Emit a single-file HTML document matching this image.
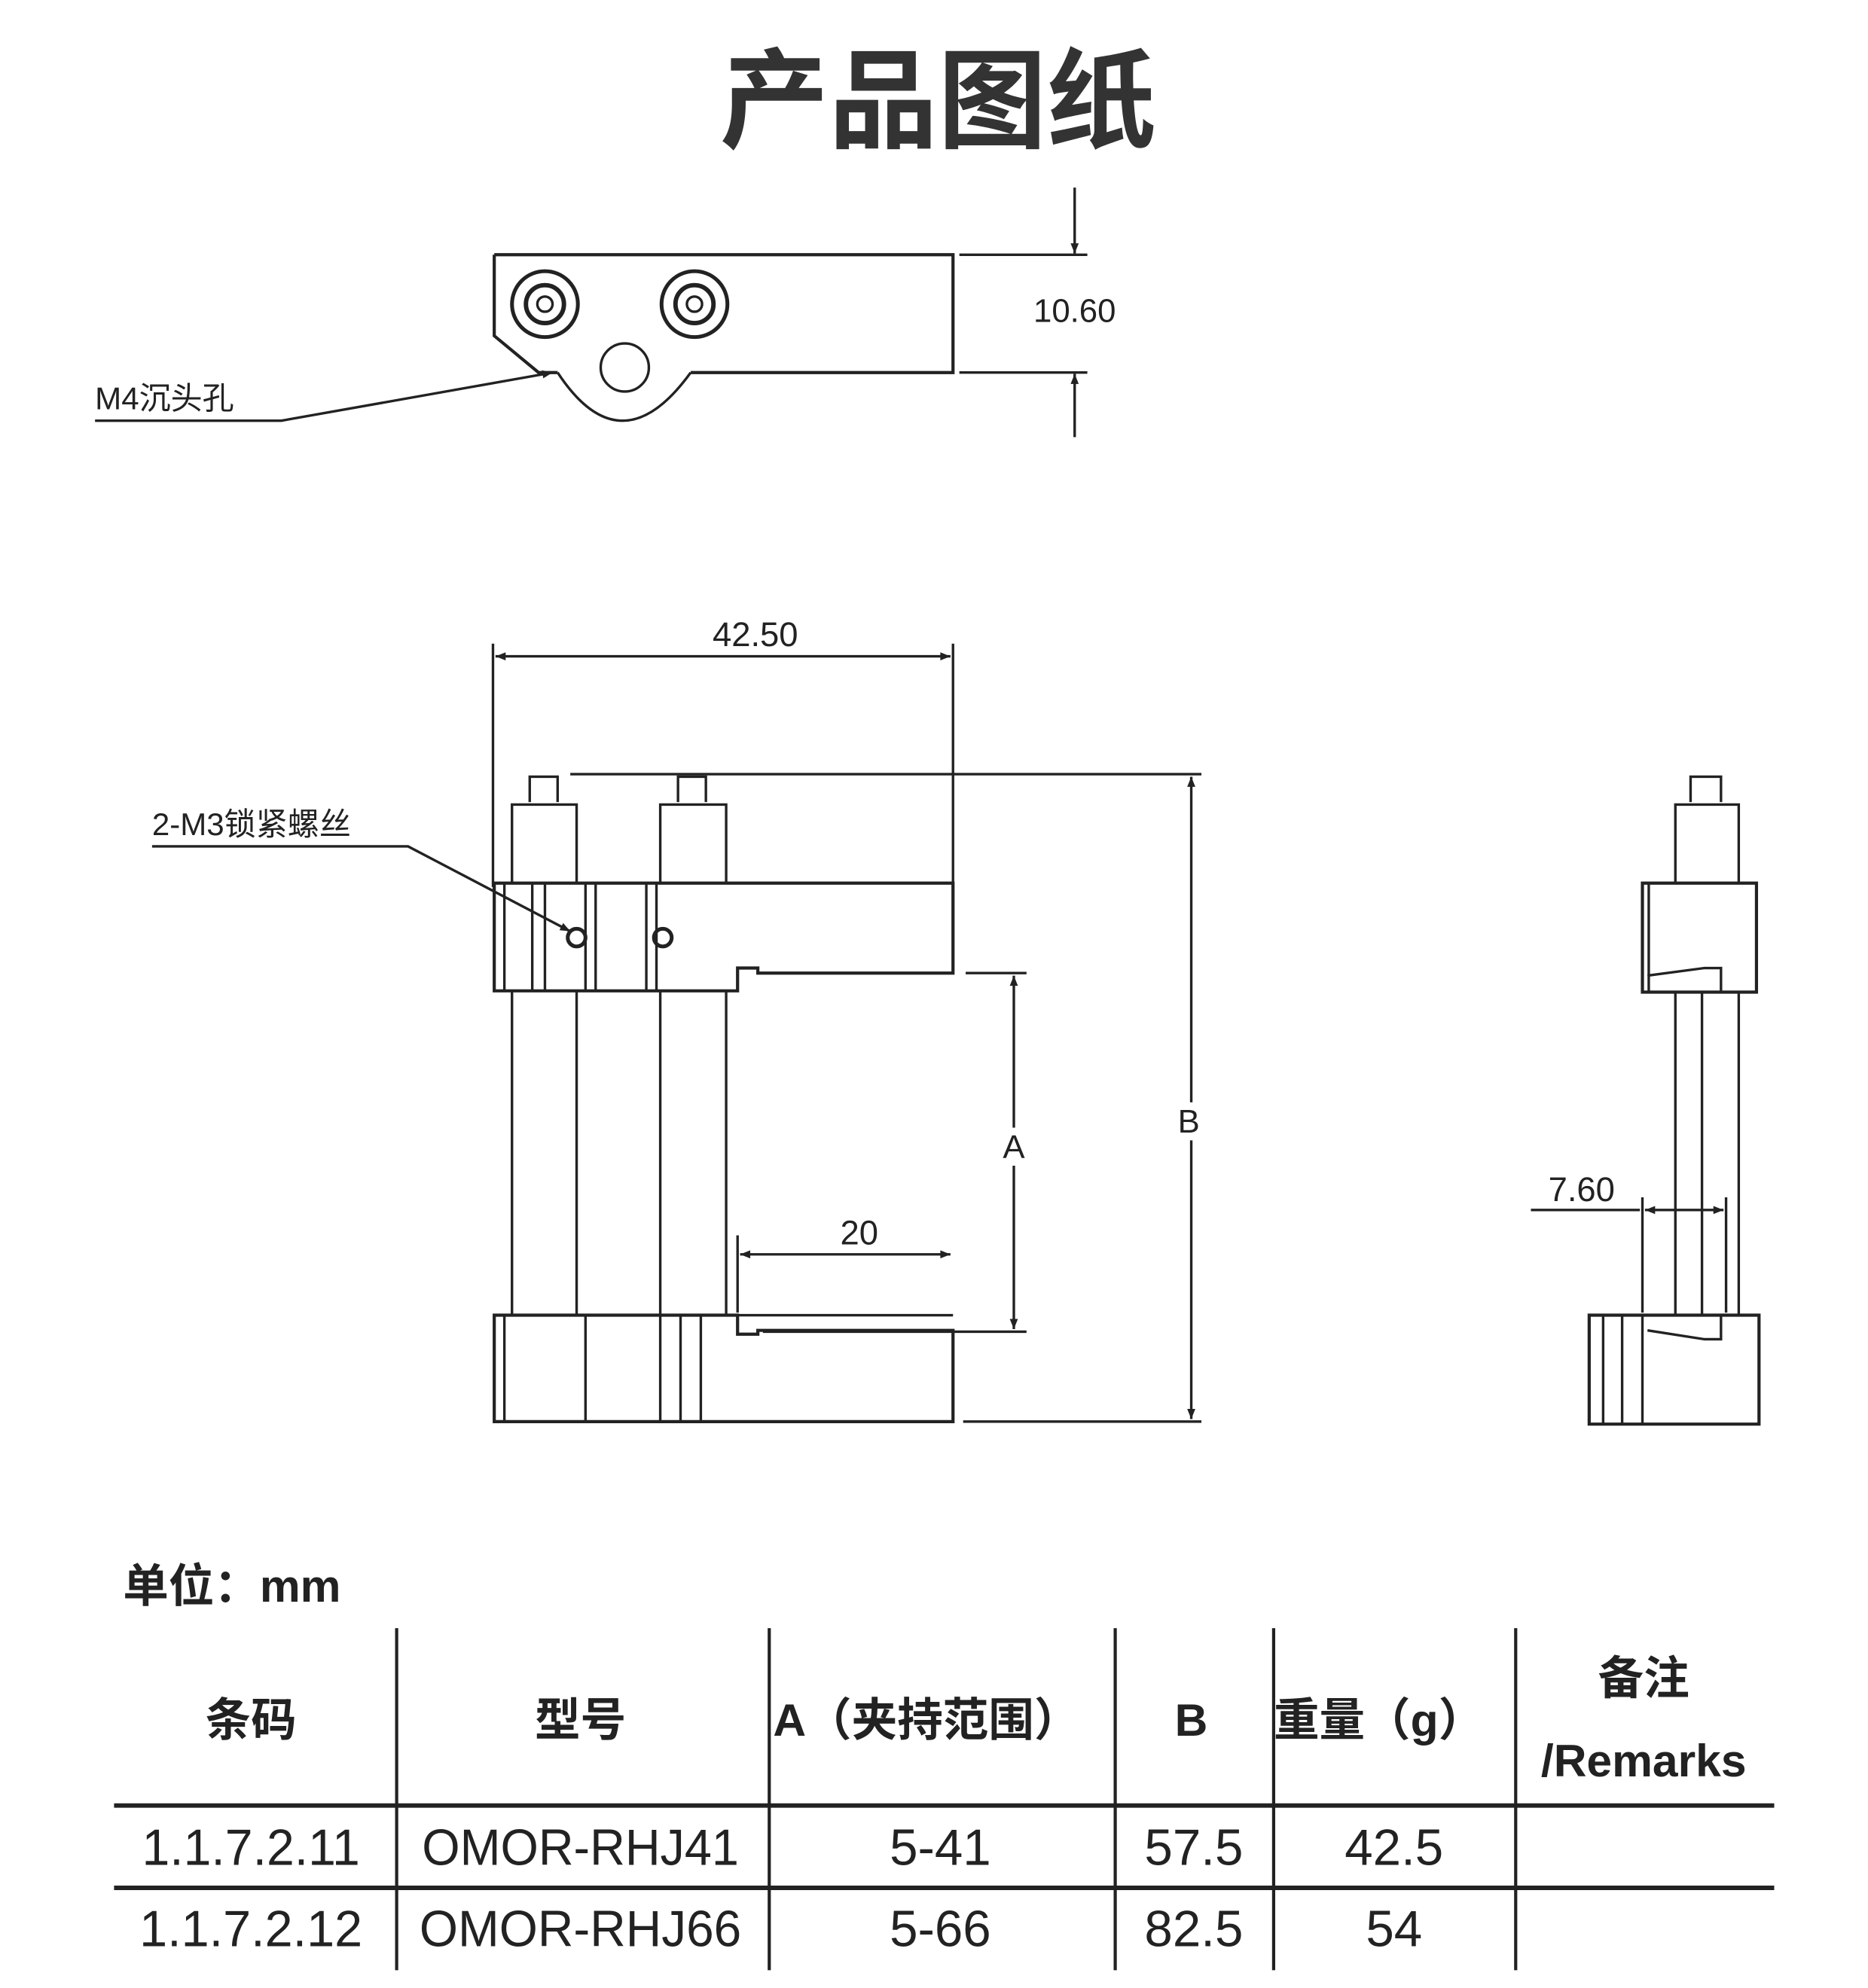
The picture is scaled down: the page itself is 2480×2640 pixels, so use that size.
<!DOCTYPE html>
<html><head><meta charset="utf-8"><style>
html,body{margin:0;padding:0;background:#fff;}
svg{display:block;}
text{font-family:"Liberation Sans","Noto Sans CJK SC",sans-serif;fill:#222;}
</style></head><body>
<svg width="2480" height="2640" viewBox="0 0 1474 1569" xmlns="http://www.w3.org/2000/svg">
<defs>
<marker id="ar" viewBox="0 0 10 10" refX="10" refY="5" markerWidth="18" markerHeight="8" markerUnits="userSpaceOnUse" orient="auto-start-reverse"><path d="M0,1 L10,5 L0,9 z" fill="#222"/></marker>
</defs>
<rect width="1474" height="1569" fill="#fff"/>
<text x="740" y="110" font-size="86" font-weight="bold" text-anchor="middle" style="fill:#333">产品图纸</text>

<g stroke="#222" fill="none" stroke-width="2">
<path d="M390,201 H752 V294 H545 M390,201 V265 L425,294 H440" stroke-width="2.5"/>
<path d="M440,294 Q490,370 545,294" />
<circle cx="493" cy="290" r="19"/>
<circle cx="430" cy="240" r="26" stroke-width="3"/><circle cx="430" cy="240" r="15" stroke-width="3.5"/><circle cx="430" cy="240" r="6"/>
<circle cx="548" cy="240" r="26" stroke-width="3"/><circle cx="548" cy="240" r="15" stroke-width="3.5"/><circle cx="548" cy="240" r="6"/>
<line x1="757" y1="201" x2="858" y2="201"/><line x1="757" y1="294" x2="858" y2="294"/>
<line x1="848" y1="148" x2="848" y2="200" marker-end="url(#ar)"/>
<line x1="848" y1="345" x2="848" y2="295" marker-end="url(#ar)"/>
<path d="M75,332 H222 L436,294" marker-end="url(#ar)"/>

<line x1="389" y1="508" x2="389" y2="700"/><line x1="752" y1="508" x2="752" y2="697"/>
<line x1="391" y1="518" x2="750" y2="518" marker-start="url(#ar)" marker-end="url(#ar)"/>
<path d="M418,633 V613 H440 V633 M404,697 V635 H455 V697"/>
<path d="M535,633 V613 H557 V633 M521,697 V635 H573 V697"/>
<path d="M390,697 H752 V768 H598 V764 H582 V782 H390 Z" stroke-width="2.5"/>
<line x1="398" y1="697" x2="398" y2="782"/><line x1="420" y1="697" x2="420" y2="782"/><line x1="430" y1="697" x2="430" y2="782"/>
<line x1="462" y1="697" x2="462" y2="782"/><line x1="470" y1="697" x2="470" y2="782"/>
<line x1="510" y1="697" x2="510" y2="782"/><line x1="518" y1="697" x2="518" y2="782"/>
<circle cx="455" cy="740" r="7" stroke-width="3"/><circle cx="523" cy="740" r="7" stroke-width="3"/>
<path d="M120,668 H322 L450,735" marker-end="url(#ar)"/>
<line x1="404" y1="782" x2="404" y2="1038"/><line x1="455" y1="782" x2="455" y2="1038"/>
<line x1="521" y1="782" x2="521" y2="1038"/><line x1="573" y1="782" x2="573" y2="1038"/>
<path d="M390,1038 H582 V1053 H598 V1050 H752 V1122 H390 Z" stroke-width="2.5"/>
<line x1="582" y1="1038" x2="752" y2="1038"/>
<line x1="398" y1="1038" x2="398" y2="1122"/><line x1="462" y1="1038" x2="462" y2="1122"/>
<line x1="521" y1="1038" x2="521" y2="1122"/><line x1="537" y1="1038" x2="537" y2="1122"/><line x1="553" y1="1038" x2="553" y2="1122"/>
<line x1="762" y1="768" x2="810" y2="768"/><line x1="602" y1="1051" x2="810" y2="1051"/>
<line x1="800" y1="770" x2="800" y2="890" marker-start="url(#ar)"/><line x1="800" y1="920" x2="800" y2="1049" marker-end="url(#ar)"/>
<line x1="450" y1="611" x2="948" y2="611"/><line x1="760" y1="1122" x2="948" y2="1122"/>
<line x1="940" y1="613" x2="940" y2="870" marker-start="url(#ar)"/><line x1="940" y1="900" x2="940" y2="1120" marker-end="url(#ar)"/>
<line x1="582" y1="975" x2="582" y2="1036"/>
<line x1="584" y1="990" x2="750" y2="990" marker-start="url(#ar)" marker-end="url(#ar)"/>

<path d="M1334,633 V613 H1358 V633 M1322,697 V635 H1372 V697"/>
<path d="M1296,697 H1386 V783 H1296 Z" stroke-width="2.5"/>
<line x1="1301" y1="697" x2="1301" y2="783"/>
<path d="M1300,770 L1345,764 H1358 V783"/>
<line x1="1322" y1="783" x2="1322" y2="1038"/><line x1="1343" y1="783" x2="1343" y2="1038"/><line x1="1372" y1="783" x2="1372" y2="1038"/>
<path d="M1254,1038 H1388 V1124 H1254 Z" stroke-width="2.5"/>
<line x1="1265" y1="1038" x2="1265" y2="1124"/><line x1="1280" y1="1038" x2="1280" y2="1124"/><line x1="1296" y1="1038" x2="1296" y2="1124"/>
<path d="M1300,1050 L1345,1057 H1358 V1038"/>
<line x1="1296" y1="945" x2="1296" y2="1036"/><line x1="1362" y1="945" x2="1362" y2="1036"/>
<line x1="1208" y1="955" x2="1294" y2="955"/>
<line x1="1298" y1="955" x2="1360" y2="955" marker-start="url(#ar)" marker-end="url(#ar)"/>

<g stroke-width="2.5">
<line x1="313" y1="1285" x2="313" y2="1555"/><line x1="607" y1="1285" x2="607" y2="1555"/>
<line x1="880" y1="1285" x2="880" y2="1555"/><line x1="1005" y1="1285" x2="1005" y2="1555"/>
<line x1="1196" y1="1285" x2="1196" y2="1555"/>
</g>
<line x1="90" y1="1425" x2="1400" y2="1425" stroke-width="3.5"/>
<line x1="90" y1="1490" x2="1400" y2="1490" stroke-width="3.5"/>
</g>

<text x="848" y="254" font-size="26" text-anchor="middle">10.60</text>
<text x="75" y="323" font-size="25">M4沉头孔</text>
<text x="596" y="510" font-size="27" text-anchor="middle">42.50</text>
<text x="120" y="659" font-size="25">2-M3锁紧螺丝</text>
<text x="800" y="914" font-size="26" text-anchor="middle">A</text>
<text x="938" y="894" font-size="26" text-anchor="middle">B</text>
<text x="678" y="982" font-size="27" text-anchor="middle">20</text>
<text x="1248" y="948" font-size="27" text-anchor="middle">7.60</text>

<text x="97" y="1264" font-size="36" font-weight="bold">单位：mm</text>
<g font-size="36" font-weight="bold" text-anchor="middle">
<text x="198" y="1370">条码</text>
<text x="458" y="1370">型号</text>
<text x="731" y="1370">A（夹持范围）</text>
<text x="940" y="1370">B</text>
<text x="1088" y="1370">重量（g）</text>
<text x="1297" y="1337">备注</text>
<text x="1297" y="1402">/Remarks</text>
</g>
<g font-size="40" text-anchor="middle">
<text x="198" y="1472" textLength="172" lengthAdjust="spacingAndGlyphs">1.1.7.2.11</text>
<text x="458" y="1472" textLength="250" lengthAdjust="spacingAndGlyphs">OMOR-RHJ41</text>
<text x="742" y="1472">5-41</text>
<text x="942" y="1472">57.5</text>
<text x="1100" y="1472">42.5</text>
<text x="198" y="1536" textLength="176" lengthAdjust="spacingAndGlyphs">1.1.7.2.12</text>
<text x="458" y="1536" textLength="254" lengthAdjust="spacingAndGlyphs">OMOR-RHJ66</text>
<text x="742" y="1536">5-66</text>
<text x="942" y="1536">82.5</text>
<text x="1100" y="1536">54</text>
</g>
</svg>
</body></html>
